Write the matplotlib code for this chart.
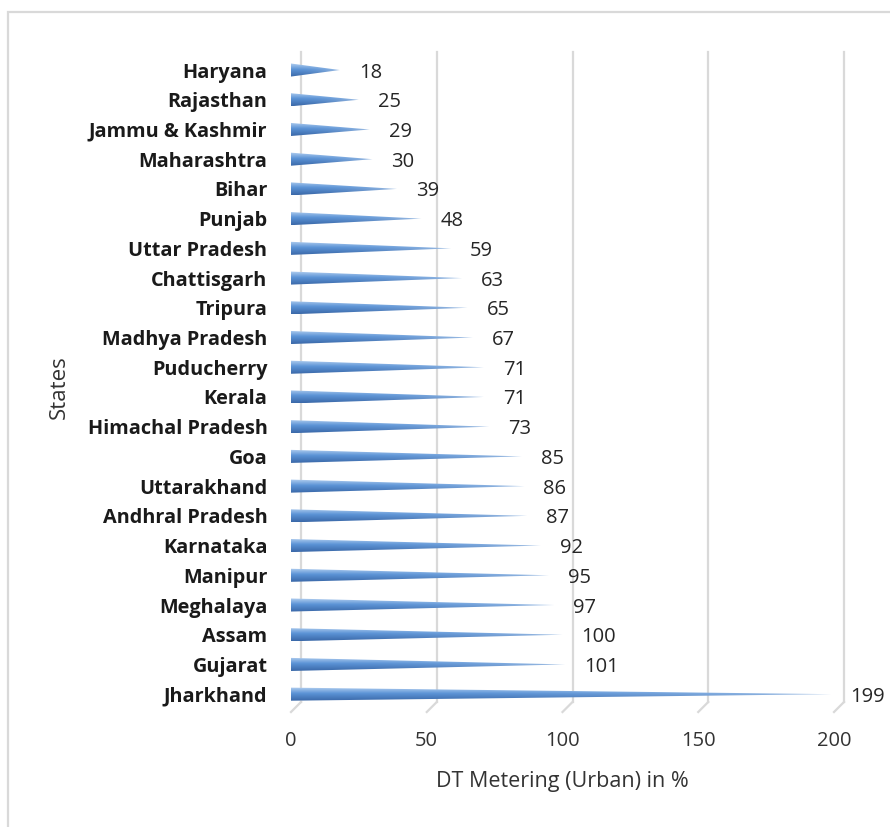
import numpy as np
import matplotlib
matplotlib.use("Agg")
import matplotlib.pyplot as plt
from matplotlib.path import Path
from matplotlib.patches import PathPatch, Rectangle
import matplotlib.transforms as mtransforms

plt.rcParams['font.family'] = ['Open Sans', 'DejaVu Sans']

# states listed bottom to top
states = ["Jharkhand", "Gujarat", "Assam", "Meghalaya", "Manipur", "Karnataka",
          "Andhral Pradesh", "Uttarakhand", "Goa", "Himachal Pradesh", "Kerala",
          "Puducherry", "Madhya Pradesh", "Tripura", "Chattisgarh", "Uttar Pradesh",
          "Punjab", "Bihar", "Maharashtra", "Jammu & Kashmir", "Rajasthan", "Haryana"]
values = [199, 101, 100, 97, 95, 92, 87, 86, 85, 73, 71,
          71, 67, 65, 63, 59, 48, 39, 30, 29, 25, 18]
xticks = [0, 50, 100, 150, 200]

fig = plt.figure(figsize=(8.9, 8.27), dpi=100)
W, H = 890, 827
ax = fig.add_axes([291 / W, 1 - 712 / H, 543 / W, 650 / H])
ax.set_xlim(0, 200)
ax.set_ylim(-0.6, 21.27)
for s in ax.spines.values():
    s.set_visible(False)

# chart area border
fig.add_artist(Rectangle((8 / W, -0.05), 1.0, 1 - 12 / H + 0.05, transform=fig.transFigure,
                         fill=False, edgecolor="#d9d9d9", lw=1.6))

# back wall gridlines with a short floor edge towards the front
back = mtransforms.offset_copy(ax.transData, fig=fig, x=10, y=10, units="dots")
y0, y1 = ax.get_ylim()
for t in xticks:
    ax.plot([t, t], [y0, y1], color="#d9d9d9", lw=1.6, transform=back, clip_on=False, zorder=1)
    p0 = back.transform((t, y0))
    p1 = ax.transData.transform((t, y0))
    fig.add_artist(plt.Line2D([p0[0] / W, p1[0] / W], [p0[1] / H, p1[1] / H],
                              transform=fig.transFigure, color="#d9d9d9", lw=1.6))

# vertical shading used for each cone
n = 64
vy = np.linspace(0, 1, n)[:, None]
bottom_c = np.array([0x3a, 0x68, 0xa8]) / 255
mid_c = np.array([0x5b, 0x93, 0xd6]) / 255
top_c = np.array([0xb4, 0xd0, 0xf0]) / 255
col = np.where(vy < 0.55,
               bottom_c + (mid_c - bottom_c) * (vy / 0.55),
               mid_c + (top_c - mid_c) * ((vy - 0.55) / 0.45))
hx = np.linspace(0, 1, n)[None, :, None]
grad = col[:, None, :] * np.ones((1, n, 1))
grad = grad + (1 - grad) * (hx ** 3) * 0.45

h = 0.22
bulge = 1.6
for i, v in enumerate(values):
    yc = i
    th = np.linspace(np.pi / 2, 3 * np.pi / 2, 20)
    arc = np.column_stack([bulge * np.cos(th), yc + h * np.sin(th)])
    verts = np.vstack([arc, [[v, yc]], arc[:1]])
    codes = [Path.MOVETO] + [Path.LINETO] * (len(verts) - 2) + [Path.CLOSEPOLY]
    patch = PathPatch(Path(verts, codes), facecolor="none", edgecolor="none")
    ax.add_patch(patch)
    im = ax.imshow(grad, extent=[-bulge, v, yc - h, yc + h], origin="lower",
                   aspect="auto", zorder=3, interpolation="bilinear")
    im.set_clip_path(patch)
    ax.annotate(str(v), xy=(v, yc), xytext=(19, -2.5), textcoords="offset pixels",
                ha="left", va="center", fontsize=14.5, color="#262626",
                annotation_clip=False)

ax.set_xlim(0, 200)
ax.set_ylim(y0, y1)
ax.set_yticks(range(len(states)))
ax.set_yticklabels(states, fontsize=14.3, fontweight="bold", color="#1a1a1a")
ax.set_xticks(xticks)
ax.set_xticklabels([str(t) for t in xticks], fontsize=14.5, color="#333333")
ax.tick_params(axis="y", length=0, pad=17)
ax.tick_params(axis="x", length=0, pad=14)
ax.set_xlabel("DT Metering (Urban) in %", fontsize=15.5, color="#333333", labelpad=14)
ax.set_ylabel("States", fontsize=16, color="#333333", labelpad=13)

fig.savefig("out.png", dpi=100)
